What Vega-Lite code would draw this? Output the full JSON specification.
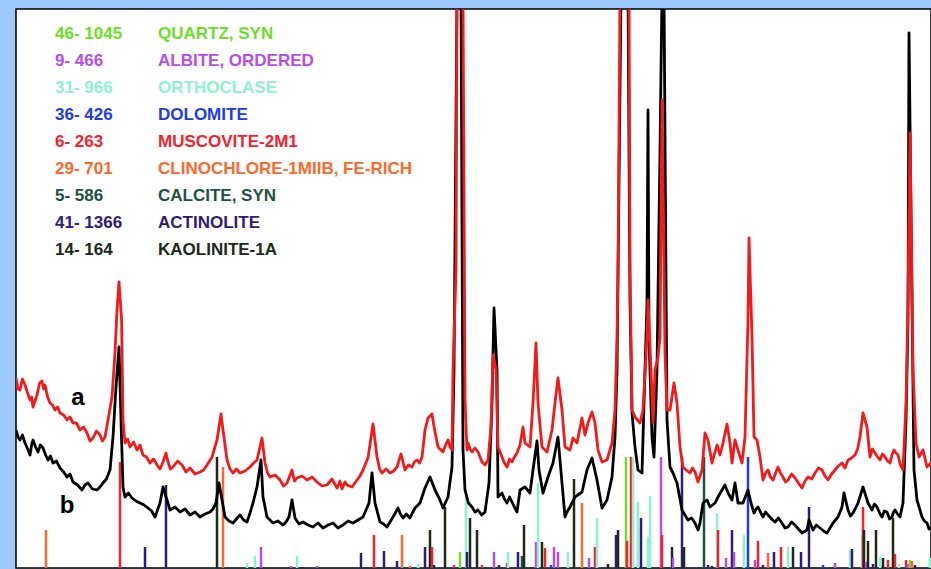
{
"$schema": "https://vega.github.io/schema/vega-lite/v6.json",
"width": 915, "height": 559,
"autosize": {"type": "none"},
"padding": {"left": 16, "top": 9, "right": 0, "bottom": 1},
"background": "#9ccafc",
"config": {"view": {"fill": "white", "stroke": "black", "strokeWidth": 1.5}},
"datasets": {
"sticks": [
{"t":4.5,"h":39,"p":"Clinochlore"},{"t":8.2,"h":107,"p":"Muscovite"},{"t":9.45,"h":22,"p":"Actinolite"},{"t":10.5,"h":84,"p":"Actinolite"},{"t":13.05,"h":112,"p":"Kaolinite"},{"t":13.35,"h":102,"p":"Clinochlore"},{"t":14.55,"h":6,"p":"Orthoclase"},{"t":14.95,"h":13,"p":"Orthoclase"},{"t":15.25,"h":22,"p":"Albite"},{"t":16.75,"h":3,"p":"Albite"},{"t":17.05,"h":13,"p":"Orthoclase"},{"t":18.05,"h":3,"p":"Albite"},{"t":20.25,"h":16,"p":"Actinolite"},{"t":20.9,"h":34,"p":"Muscovite"},{"t":21.4,"h":18,"p":"Actinolite"},{"t":22.05,"h":8,"p":"Actinolite"},{"t":22.3,"h":34,"p":"Clinochlore"},{"t":22.7,"h":3,"p":"Clinochlore"},{"t":23.1,"h":5,"p":"Orthoclase"},{"t":23.45,"h":22,"p":"Actinolite"},{"t":23.7,"h":39,"p":"Kaolinite"},{"t":23.8,"h":22,"p":"Muscovite"},{"t":23.9,"h":4,"p":"Actinolite"},{"t":24.45,"h":62,"p":"Kaolinite"},{"t":24.9,"h":4,"p":"Muscovite"},{"t":25.2,"h":17,"p":"Quartz"},{"t":25.5,"h":77,"p":"Orthoclase"},{"t":25.55,"h":17,"p":"Actinolite"},{"t":25.7,"h":51,"p":"Kaolinite"},{"t":26.05,"h":39,"p":"Kaolinite"},{"t":26.3,"h":4,"p":"Muscovite"},{"t":26.9,"h":17,"p":"Albite"},{"t":27.15,"h":4,"p":"Actinolite"},{"t":27.55,"h":6,"p":"Muscovite"},{"t":27.6,"h":17,"p":"Orthoclase"},{"t":28.1,"h":17,"p":"Actinolite"},{"t":28.3,"h":13,"p":"Calcite"},{"t":28.4,"h":44,"p":"Kaolinite"},{"t":29.0,"h":27,"p":"Albite"},{"t":29.1,"h":86,"p":"Orthoclase"},{"t":29.3,"h":27,"p":"Kaolinite"},{"t":29.45,"h":21,"p":"Muscovite"},{"t":29.75,"h":4,"p":"Dolomite"},{"t":29.9,"h":22,"p":"Albite"},{"t":30.1,"h":17,"p":"Albite"},{"t":30.6,"h":17,"p":"Orthoclase"},{"t":30.9,"h":90,"p":"Kaolinite"},{"t":31.3,"h":66,"p":"Clinochlore"},{"t":31.65,"h":11,"p":"Albite"},{"t":31.95,"h":22,"p":"Muscovite"},{"t":32.05,"h":51,"p":"Orthoclase"},{"t":32.6,"h":5,"p":"Kaolinite"},{"t":33.0,"h":34,"p":"Actinolite"},{"t":33.1,"h":39,"p":"Kaolinite"},{"t":33.5,"h":112,"p":"Quartz"},{"t":33.55,"h":28,"p":"Muscovite"},{"t":33.75,"h":112,"p":"Muscovite"},{"t":33.85,"h":112,"p":"Orthoclase"},{"t":34.1,"h":67,"p":"Orthoclase"},{"t":34.25,"h":51,"p":"Actinolite"},{"t":34.6,"h":32,"p":"Orthoclase"},{"t":34.7,"h":73,"p":"Orthoclase"},{"t":35.25,"h":112,"p":"Albite"},{"t":35.3,"h":34,"p":"Muscovite"},{"t":35.8,"h":22,"p":"Kaolinite"},{"t":35.85,"h":11,"p":"Albite"},{"t":36.3,"h":112,"p":"Actinolite"},{"t":36.4,"h":22,"p":"Kaolinite"},{"t":37.4,"h":112,"p":"Calcite"},{"t":37.6,"h":4,"p":"Actinolite"},{"t":37.8,"h":3,"p":"Actinolite"},{"t":38.05,"h":56,"p":"Orthoclase"},{"t":38.1,"h":39,"p":"Muscovite"},{"t":38.5,"h":11,"p":"Albite"},{"t":38.8,"h":39,"p":"Actinolite"},{"t":38.9,"h":17,"p":"Albite"},{"t":39.4,"h":34,"p":"Orthoclase"},{"t":39.6,"h":112,"p":"Dolomite"},{"t":39.95,"h":9,"p":"Albite"},{"t":40.1,"h":28,"p":"Muscovite"},{"t":40.35,"h":4,"p":"Actinolite"},{"t":40.6,"h":16,"p":"Clinochlore"},{"t":40.9,"h":17,"p":"Actinolite"},{"t":41.25,"h":22,"p":"Muscovite"},{"t":41.6,"h":22,"p":"Orthoclase"},{"t":41.85,"h":22,"p":"Kaolinite"},{"t":42.25,"h":17,"p":"Actinolite"},{"t":42.65,"h":62,"p":"Actinolite"},{"t":43.35,"h":4,"p":"Dolomite"},{"t":43.95,"h":6,"p":"Albite"},{"t":44.7,"h":19,"p":"Orthoclase"},{"t":44.8,"h":20,"p":"Actinolite"},{"t":45.3,"h":34,"p":"Orthoclase"},{"t":45.35,"h":62,"p":"Muscovite"},{"t":45.4,"h":39,"p":"Kaolinite"},{"t":45.5,"h":7,"p":"Albite"},{"t":45.6,"h":28,"p":"Kaolinite"},{"t":45.85,"h":5,"p":"Actinolite"},{"t":46.0,"h":39,"p":"Kaolinite"},{"t":46.2,"h":12,"p":"Orthoclase"},{"t":46.35,"h":11,"p":"Kaolinite"},{"t":46.6,"h":9,"p":"Muscovite"},{"t":46.85,"h":51,"p":"Kaolinite"},{"t":46.95,"h":15,"p":"Muscovite"},{"t":47.15,"h":5,"p":"Orthoclase"},{"t":47.5,"h":9,"p":"Muscovite"},{"t":47.6,"h":5,"p":"Albite"},{"t":47.7,"h":9,"p":"Quartz"},{"t":47.8,"h":8,"p":"Clinochlore"},{"t":47.95,"h":4,"p":"Actinolite"},{"t":48.7,"h":11,"p":"Orthoclase"}
],
"black": [
{"t":3.0,"i":139},{"t":3.1,"i":132},{"t":3.2,"i":129},{"t":3.32,"i":134},{"t":3.45,"i":126},{"t":3.58,"i":120},{"t":3.7,"i":114},{"t":3.78,"i":124},{"t":3.85,"i":129},{"t":3.98,"i":122},{"t":4.1,"i":117},{"t":4.22,"i":124},{"t":4.35,"i":121},{"t":4.48,"i":114},{"t":4.6,"i":109},{"t":4.72,"i":113},{"t":4.85,"i":106},{"t":5.02,"i":108},{"t":5.2,"i":101},{"t":5.38,"i":97},{"t":5.55,"i":92},{"t":5.7,"i":95},{"t":5.85,"i":87},{"t":6.08,"i":84},{"t":6.3,"i":79},{"t":6.45,"i":84},{"t":6.6,"i":86},{"t":6.82,"i":80},{"t":7.05,"i":79},{"t":7.2,"i":82},{"t":7.35,"i":86},{"t":7.52,"i":90},{"t":7.7,"i":99},{"t":7.85,"i":132},{"t":8.0,"i":182},{"t":8.15,"i":222},{"t":8.25,"i":149},{"t":8.35,"i":82},{"t":8.45,"i":72},{"t":8.62,"i":76},{"t":8.8,"i":71},{"t":9.0,"i":68},{"t":9.2,"i":66},{"t":9.4,"i":64},{"t":9.6,"i":61},{"t":9.78,"i":58},{"t":9.95,"i":52},{"t":10.2,"i":66},{"t":10.35,"i":82},{"t":10.55,"i":69},{"t":10.7,"i":59},{"t":10.95,"i":62},{"t":11.2,"i":57},{"t":11.45,"i":60},{"t":11.7,"i":54},{"t":11.95,"i":57},{"t":12.2,"i":52},{"t":12.45,"i":55},{"t":12.7,"i":57},{"t":12.85,"i":60},{"t":13.0,"i":66},{"t":13.15,"i":86},{"t":13.3,"i":69},{"t":13.45,"i":52},{"t":13.65,"i":48},{"t":13.85,"i":46},{"t":14.02,"i":50},{"t":14.2,"i":54},{"t":14.38,"i":49},{"t":14.55,"i":47},{"t":14.7,"i":56},{"t":14.85,"i":66},{"t":15.05,"i":82},{"t":15.25,"i":109},{"t":15.35,"i":72},{"t":15.55,"i":52},{"t":15.7,"i":49},{"t":15.85,"i":46},{"t":16.1,"i":48},{"t":16.35,"i":44},{"t":16.5,"i":47},{"t":16.65,"i":52},{"t":16.8,"i":69},{"t":16.95,"i":51},{"t":17.15,"i":45},{"t":17.35,"i":47},{"t":17.6,"i":44},{"t":17.85,"i":42},{"t":18.1,"i":46},{"t":18.35,"i":41},{"t":18.6,"i":44},{"t":18.85,"i":46},{"t":19.1,"i":41},{"t":19.35,"i":44},{"t":19.6,"i":48},{"t":19.85,"i":46},{"t":20.1,"i":49},{"t":20.35,"i":52},{"t":20.65,"i":66},{"t":20.8,"i":96},{"t":20.95,"i":66},{"t":21.2,"i":47},{"t":21.38,"i":45},{"t":21.55,"i":42},{"t":21.7,"i":47},{"t":21.85,"i":52},{"t":22.1,"i":61},{"t":22.22,"i":55},{"t":22.35,"i":51},{"t":22.52,"i":55},{"t":22.7,"i":51},{"t":22.82,"i":56},{"t":22.95,"i":61},{"t":23.2,"i":66},{"t":23.45,"i":81},{"t":23.7,"i":92},{"t":23.95,"i":79},{"t":24.2,"i":69},{"t":24.35,"i":61},{"t":24.6,"i":72},{"t":24.8,"i":102},{"t":24.9,"i":199},{"t":25.05,"i":575},{"t":25.25,"i":575},{"t":25.35,"i":119},{"t":25.45,"i":79},{"t":25.62,"i":66},{"t":25.8,"i":62},{"t":25.95,"i":57},{"t":26.1,"i":59},{"t":26.28,"i":54},{"t":26.45,"i":57},{"t":26.65,"i":86},{"t":26.8,"i":166},{"t":26.9,"i":261},{"t":27.05,"i":199},{"t":27.1,"i":72},{"t":27.3,"i":76},{"t":27.42,"i":70},{"t":27.55,"i":66},{"t":27.68,"i":72},{"t":27.8,"i":67},{"t":27.92,"i":62},{"t":28.05,"i":57},{"t":28.2,"i":79},{"t":28.45,"i":82},{"t":28.7,"i":76},{"t":28.85,"i":99},{"t":29.05,"i":128},{"t":29.15,"i":99},{"t":29.35,"i":76},{"t":29.6,"i":92},{"t":29.85,"i":106},{"t":30.1,"i":132},{"t":30.3,"i":86},{"t":30.45,"i":52},{"t":30.58,"i":58},{"t":30.7,"i":62},{"t":30.95,"i":72},{"t":31.3,"i":77},{"t":31.55,"i":99},{"t":31.8,"i":111},{"t":32.05,"i":89},{"t":32.3,"i":61},{"t":32.55,"i":69},{"t":32.8,"i":92},{"t":32.95,"i":132},{"t":33.05,"i":199},{"t":33.25,"i":575},{"t":33.6,"i":575},{"t":33.7,"i":269},{"t":33.8,"i":156},{"t":33.95,"i":122},{"t":34.1,"i":99},{"t":34.3,"i":96},{"t":34.4,"i":166},{"t":34.55,"i":266},{"t":34.6,"i":459},{"t":34.65,"i":232},{"t":34.8,"i":132},{"t":34.9,"i":112},{"t":35.05,"i":199},{"t":35.2,"i":419},{"t":35.3,"i":575},{"t":35.4,"i":575},{"t":35.55,"i":149},{"t":35.7,"i":102},{"t":35.85,"i":96},{"t":36.05,"i":86},{"t":36.3,"i":59},{"t":36.45,"i":54},{"t":36.6,"i":49},{"t":36.78,"i":51},{"t":36.95,"i":46},{"t":37.1,"i":39},{"t":37.2,"i":46},{"t":37.35,"i":66},{"t":37.55,"i":69},{"t":37.7,"i":62},{"t":37.95,"i":66},{"t":38.1,"i":72},{"t":38.3,"i":79},{"t":38.45,"i":84},{"t":38.6,"i":76},{"t":38.8,"i":69},{"t":38.95,"i":86},{"t":39.1,"i":66},{"t":39.35,"i":66},{"t":39.6,"i":79},{"t":39.75,"i":66},{"t":39.9,"i":56},{"t":40.0,"i":60},{"t":40.1,"i":62},{"t":40.22,"i":57},{"t":40.35,"i":52},{"t":40.48,"i":57},{"t":40.6,"i":54},{"t":40.78,"i":50},{"t":40.95,"i":47},{"t":41.12,"i":51},{"t":41.3,"i":46},{"t":41.45,"i":41},{"t":41.6,"i":42},{"t":41.78,"i":47},{"t":41.95,"i":44},{"t":42.12,"i":40},{"t":42.3,"i":36},{"t":42.55,"i":39},{"t":42.65,"i":49},{"t":42.85,"i":39},{"t":43.02,"i":44},{"t":43.2,"i":41},{"t":43.38,"i":38},{"t":43.55,"i":36},{"t":43.7,"i":41},{"t":43.85,"i":46},{"t":44.1,"i":52},{"t":44.3,"i":62},{"t":44.4,"i":76},{"t":44.6,"i":59},{"t":44.72,"i":53},{"t":44.85,"i":56},{"t":44.98,"i":61},{"t":45.1,"i":66},{"t":45.35,"i":82},{"t":45.6,"i":66},{"t":45.8,"i":59},{"t":45.92,"i":65},{"t":46.05,"i":62},{"t":46.18,"i":56},{"t":46.3,"i":52},{"t":46.42,"i":58},{"t":46.55,"i":57},{"t":46.68,"i":50},{"t":46.8,"i":52},{"t":46.88,"i":57},{"t":46.95,"i":59},{"t":47.08,"i":55},{"t":47.2,"i":52},{"t":47.35,"i":66},{"t":47.5,"i":149},{"t":47.6,"i":249},{"t":47.65,"i":536},{"t":47.8,"i":266},{"t":47.9,"i":99},{"t":48.05,"i":69},{"t":48.3,"i":52},{"t":48.42,"i":48},{"t":48.55,"i":46},{"t":48.65,"i":40},{"t":48.75,"i":42}
],
"red": [
{"t":3.0,"i":191},{"t":3.1,"i":180},{"t":3.2,"i":179},{"t":3.32,"i":190},{"t":3.45,"i":184},{"t":3.58,"i":176},{"t":3.7,"i":169},{"t":3.78,"i":172},{"t":3.85,"i":162},{"t":3.95,"i":168},{"t":4.05,"i":174},{"t":4.18,"i":186},{"t":4.3,"i":188},{"t":4.38,"i":180},{"t":4.45,"i":184},{"t":4.58,"i":172},{"t":4.7,"i":166},{"t":4.82,"i":164},{"t":4.95,"i":159},{"t":5.08,"i":162},{"t":5.2,"i":156},{"t":5.38,"i":154},{"t":5.55,"i":149},{"t":5.7,"i":152},{"t":5.85,"i":146},{"t":6.02,"i":146},{"t":6.2,"i":139},{"t":6.38,"i":142},{"t":6.55,"i":136},{"t":6.7,"i":128},{"t":6.85,"i":131},{"t":7.02,"i":138},{"t":7.2,"i":134},{"t":7.32,"i":128},{"t":7.45,"i":132},{"t":7.6,"i":149},{"t":7.8,"i":172},{"t":7.95,"i":216},{"t":8.05,"i":259},{"t":8.15,"i":287},{"t":8.28,"i":249},{"t":8.35,"i":149},{"t":8.45,"i":126},{"t":8.58,"i":130},{"t":8.7,"i":122},{"t":8.88,"i":127},{"t":9.05,"i":119},{"t":9.2,"i":124},{"t":9.35,"i":114},{"t":9.52,"i":112},{"t":9.7,"i":106},{"t":9.88,"i":110},{"t":10.05,"i":104},{"t":10.2,"i":100},{"t":10.35,"i":107},{"t":10.5,"i":116},{"t":10.6,"i":107},{"t":10.72,"i":100},{"t":10.85,"i":102},{"t":11.08,"i":108},{"t":11.3,"i":104},{"t":11.5,"i":97},{"t":11.7,"i":101},{"t":11.95,"i":95},{"t":12.2,"i":97},{"t":12.38,"i":99},{"t":12.55,"i":104},{"t":12.68,"i":108},{"t":12.8,"i":112},{"t":13.05,"i":129},{"t":13.15,"i":142},{"t":13.25,"i":155},{"t":13.35,"i":139},{"t":13.55,"i":109},{"t":13.7,"i":100},{"t":13.85,"i":96},{"t":14.02,"i":100},{"t":14.2,"i":96},{"t":14.45,"i":98},{"t":14.7,"i":102},{"t":14.88,"i":106},{"t":15.05,"i":109},{"t":15.3,"i":131},{"t":15.45,"i":106},{"t":15.58,"i":96},{"t":15.7,"i":92},{"t":15.95,"i":94},{"t":16.2,"i":89},{"t":16.38,"i":83},{"t":16.55,"i":86},{"t":16.8,"i":99},{"t":16.92,"i":88},{"t":17.05,"i":91},{"t":17.3,"i":93},{"t":17.55,"i":89},{"t":17.8,"i":92},{"t":18.05,"i":87},{"t":18.3,"i":83},{"t":18.55,"i":84},{"t":18.8,"i":90},{"t":19.05,"i":81},{"t":19.2,"i":88},{"t":19.3,"i":80},{"t":19.45,"i":87},{"t":19.55,"i":84},{"t":19.8,"i":82},{"t":20.05,"i":89},{"t":20.2,"i":93},{"t":20.35,"i":99},{"t":20.6,"i":111},{"t":20.85,"i":145},{"t":21.05,"i":112},{"t":21.18,"i":100},{"t":21.3,"i":96},{"t":21.5,"i":100},{"t":21.7,"i":96},{"t":21.88,"i":98},{"t":22.05,"i":102},{"t":22.25,"i":115},{"t":22.45,"i":99},{"t":22.62,"i":104},{"t":22.8,"i":102},{"t":22.92,"i":107},{"t":23.05,"i":109},{"t":23.18,"i":106},{"t":23.3,"i":112},{"t":23.45,"i":139},{"t":23.6,"i":151},{"t":23.8,"i":155},{"t":23.9,"i":142},{"t":24.1,"i":122},{"t":24.35,"i":117},{"t":24.48,"i":124},{"t":24.6,"i":129},{"t":24.7,"i":122},{"t":24.8,"i":119},{"t":24.85,"i":199},{"t":24.95,"i":266},{"t":25.0,"i":299},{"t":25.05,"i":575},{"t":25.35,"i":575},{"t":25.4,"i":369},{"t":25.45,"i":169},{"t":25.55,"i":119},{"t":25.6,"i":126},{"t":25.7,"i":120},{"t":25.8,"i":117},{"t":25.95,"i":121},{"t":26.1,"i":117},{"t":26.2,"i":112},{"t":26.3,"i":107},{"t":26.45,"i":104},{"t":26.6,"i":109},{"t":26.75,"i":142},{"t":26.85,"i":214},{"t":27.0,"i":199},{"t":27.1,"i":122},{"t":27.3,"i":112},{"t":27.42,"i":106},{"t":27.55,"i":102},{"t":27.68,"i":110},{"t":27.8,"i":107},{"t":27.92,"i":112},{"t":28.05,"i":116},{"t":28.2,"i":124},{"t":28.35,"i":142},{"t":28.45,"i":126},{"t":28.7,"i":122},{"t":28.85,"i":166},{"t":29.0,"i":226},{"t":29.1,"i":166},{"t":29.3,"i":122},{"t":29.55,"i":117},{"t":29.8,"i":139},{"t":29.95,"i":166},{"t":30.1,"i":191},{"t":30.3,"i":159},{"t":30.45,"i":122},{"t":30.7,"i":119},{"t":30.85,"i":131},{"t":31.05,"i":126},{"t":31.3,"i":151},{"t":31.45,"i":134},{"t":31.6,"i":146},{"t":31.8,"i":157},{"t":31.95,"i":146},{"t":32.1,"i":119},{"t":32.3,"i":107},{"t":32.55,"i":109},{"t":32.8,"i":126},{"t":32.95,"i":159},{"t":33.05,"i":232},{"t":33.1,"i":299},{"t":33.2,"i":575},{"t":33.65,"i":575},{"t":33.7,"i":299},{"t":33.8,"i":159},{"t":33.95,"i":152},{"t":34.2,"i":146},{"t":34.35,"i":159},{"t":34.55,"i":232},{"t":34.6,"i":269},{"t":34.75,"i":199},{"t":34.85,"i":146},{"t":34.95,"i":199},{"t":35.1,"i":212},{"t":35.2,"i":232},{"t":35.3,"i":469},{"t":35.45,"i":216},{"t":35.55,"i":159},{"t":35.7,"i":159},{"t":35.9,"i":186},{"t":36.05,"i":166},{"t":36.2,"i":122},{"t":36.35,"i":102},{"t":36.5,"i":99},{"t":36.7,"i":96},{"t":36.82,"i":101},{"t":36.95,"i":97},{"t":37.1,"i":87},{"t":37.3,"i":99},{"t":37.45,"i":136},{"t":37.6,"i":129},{"t":37.8,"i":106},{"t":38.05,"i":124},{"t":38.2,"i":114},{"t":38.35,"i":126},{"t":38.55,"i":145},{"t":38.7,"i":126},{"t":38.8,"i":106},{"t":38.95,"i":129},{"t":39.1,"i":119},{"t":39.3,"i":106},{"t":39.45,"i":132},{"t":39.6,"i":249},{"t":39.65,"i":331},{"t":39.8,"i":232},{"t":39.9,"i":132},{"t":40.05,"i":129},{"t":40.2,"i":112},{"t":40.35,"i":89},{"t":40.48,"i":96},{"t":40.6,"i":99},{"t":40.72,"i":92},{"t":40.85,"i":89},{"t":40.98,"i":96},{"t":41.1,"i":102},{"t":41.22,"i":96},{"t":41.35,"i":92},{"t":41.48,"i":87},{"t":41.6,"i":89},{"t":41.78,"i":95},{"t":41.95,"i":91},{"t":42.12,"i":86},{"t":42.3,"i":81},{"t":42.45,"i":88},{"t":42.6,"i":92},{"t":42.78,"i":90},{"t":42.95,"i":96},{"t":43.12,"i":101},{"t":43.3,"i":99},{"t":43.45,"i":93},{"t":43.6,"i":89},{"t":43.78,"i":95},{"t":43.95,"i":99},{"t":44.12,"i":103},{"t":44.3,"i":106},{"t":44.45,"i":101},{"t":44.6,"i":109},{"t":44.78,"i":111},{"t":44.95,"i":114},{"t":45.08,"i":120},{"t":45.2,"i":132},{"t":45.35,"i":156},{"t":45.55,"i":142},{"t":45.7,"i":112},{"t":45.82,"i":120},{"t":45.95,"i":116},{"t":46.08,"i":112},{"t":46.2,"i":109},{"t":46.32,"i":115},{"t":46.45,"i":112},{"t":46.58,"i":108},{"t":46.7,"i":106},{"t":46.8,"i":114},{"t":46.9,"i":119},{"t":47.0,"i":116},{"t":47.1,"i":114},{"t":47.22,"i":104},{"t":47.35,"i":99},{"t":47.5,"i":166},{"t":47.6,"i":266},{"t":47.7,"i":436},{"t":47.8,"i":282},{"t":47.85,"i":199},{"t":48.0,"i":126},{"t":48.15,"i":112},{"t":48.35,"i":119},{"t":48.55,"i":102},{"t":48.75,"i":106}
],
"legend": [
{"i":530,"code":"46- 1045","name":"QUARTZ, SYN","p":"Quartz"},
{"i":503,"code":"9- 466","name":"ALBITE, ORDERED","p":"Albite"},
{"i":476,"code":"31- 966","name":"ORTHOCLASE","p":"Orthoclase"},
{"i":449,"code":"36- 426","name":"DOLOMITE","p":"Dolomite"},
{"i":422,"code":"6- 263","name":"MUSCOVITE-2M1","p":"Muscovite"},
{"i":395,"code":"29- 701","name":"CLINOCHLORE-1MIIB, FE-RICH","p":"Clinochlore"},
{"i":368,"code":"5- 586","name":"CALCITE, SYN","p":"Calcite"},
{"i":341,"code":"41- 1366","name":"ACTINOLITE","p":"Actinolite"},
{"i":314,"code":"14- 164","name":"KAOLINITE-1A","p":"Kaolinite"}
],
"labels": [
{"t":6.1,"i":164,"s":"a"},
{"t":5.55,"i":56,"s":"b"}
]
},
"layer": [
{"data": {"name": "sticks"},
 "mark": {"type": "rule", "strokeWidth": 2.5, "clip": true},
 "encoding": {
  "x": {"field": "t", "type": "quantitative", "scale": {"domain": [3, 48.75], "nice": false, "zero": false}, "axis": null},
  "y": {"field": "h", "type": "quantitative", "scale": {"domain": [1, 560], "nice": false, "zero": false}, "axis": null},
  "y2": {"datum": 0},
  "color": {"field": "p", "type": "nominal", "legend": null,
   "scale": {"domain": ["Quartz","Albite","Orthoclase","Dolomite","Muscovite","Clinochlore","Calcite","Actinolite","Kaolinite"],
             "range": ["#6ddf2a","#b44cf0","#8ef2cf","#1e3ce6","#f5222d","#fb6a2c","#1d5143","#311a7c","#1d2a17"]}}
 }},
{"data": {"name": "black"},
 "mark": {"type": "line", "color": "#000000", "strokeWidth": 2.8, "clip": true, "strokeJoin": "round"},
 "encoding": {
  "x": {"field": "t", "type": "quantitative", "scale": {"domain": [3, 48.75], "nice": false, "zero": false}, "axis": null},
  "y": {"field": "i", "type": "quantitative", "scale": {"domain": [1, 560], "nice": false, "zero": false}, "axis": null}
 }},
{"data": {"name": "red"},
 "mark": {"type": "line", "color": "#f21b1b", "strokeWidth": 2.8, "clip": true, "strokeJoin": "round"},
 "encoding": {
  "x": {"field": "t", "type": "quantitative", "scale": {"domain": [3, 48.75], "nice": false, "zero": false}, "axis": null},
  "y": {"field": "i", "type": "quantitative", "scale": {"domain": [1, 560], "nice": false, "zero": false}, "axis": null}
 }},
{"data": {"name": "legend"},
 "mark": {"type": "text", "align": "left", "baseline": "alphabetic", "font": "Liberation Sans", "fontWeight": "bold", "fontSize": 17},
 "encoding": {
  "x": {"datum": 4.95, "type": "quantitative", "scale": {"domain": [3, 48.75], "nice": false, "zero": false}, "axis": null},
  "y": {"field": "i", "type": "quantitative", "scale": {"domain": [1, 560], "nice": false, "zero": false}, "axis": null},
  "text": {"field": "code"},
  "color": {"field": "p", "type": "nominal", "legend": null}
 }},
{"data": {"name": "legend"},
 "mark": {"type": "text", "align": "left", "baseline": "alphabetic", "font": "Liberation Sans", "fontWeight": "bold", "fontSize": 17},
 "encoding": {
  "x": {"datum": 10.1, "type": "quantitative", "scale": {"domain": [3, 48.75], "nice": false, "zero": false}, "axis": null},
  "y": {"field": "i", "type": "quantitative", "scale": {"domain": [1, 560], "nice": false, "zero": false}, "axis": null},
  "text": {"field": "name"},
  "color": {"field": "p", "type": "nominal", "legend": null}
 }},
{"data": {"name": "labels"},
 "mark": {"type": "text", "align": "center", "baseline": "alphabetic", "font": "Liberation Sans", "fontWeight": "bold", "fontSize": 24, "color": "#000000"},
 "encoding": {
  "x": {"field": "t", "type": "quantitative", "scale": {"domain": [3, 48.75], "nice": false, "zero": false}, "axis": null},
  "y": {"field": "i", "type": "quantitative", "scale": {"domain": [1, 560], "nice": false, "zero": false}, "axis": null},
  "text": {"field": "s"}
 }}
]
}
